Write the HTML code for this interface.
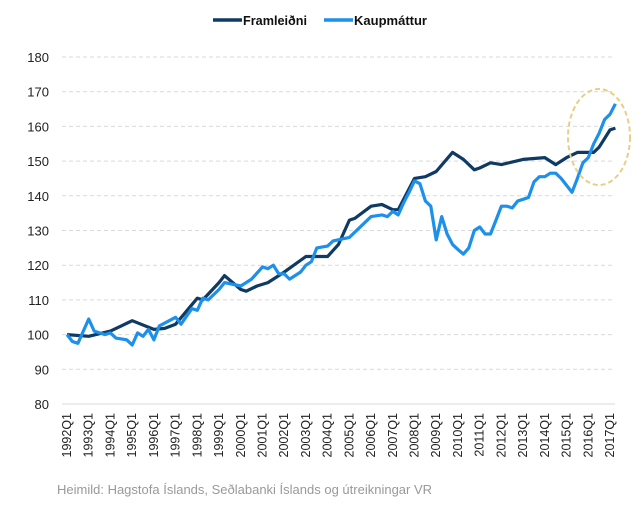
<!DOCTYPE html>
<html><head><meta charset="utf-8"><style>
html,body{margin:0;padding:0;background:#fff;}
svg{display:block;font-family:"Liberation Sans",Calibri,sans-serif;}
</style></head><body>
<svg id="c" width="638" height="517" viewBox="0 0 638 517" xmlns="http://www.w3.org/2000/svg">
<g id="grid"></g>
<g id="ylab" font-size="13" fill="#222" text-anchor="end"></g>
<g id="xlab" font-size="12.5" fill="#222"></g>
<polyline id="dark" fill="none" stroke="#0e3a64" stroke-width="3.2" stroke-linejoin="round"/>
<polyline id="light" fill="none" stroke="#1c90ea" stroke-width="3.2" stroke-linejoin="round"/>
<ellipse cx="599" cy="137" rx="31" ry="48" fill="none" stroke="#e8cf85" stroke-width="2" stroke-dasharray="5,3"/>
<line x1="213" y1="20" x2="242" y2="20" stroke="#0e3a64" stroke-width="3.5"/>
<text x="243" y="25" font-size="13" font-weight="bold" fill="#111" textLength="64" lengthAdjust="spacingAndGlyphs">Framleiðni</text>
<line x1="324" y1="20" x2="353" y2="20" stroke="#1c90ea" stroke-width="3.5"/>
<text x="354" y="25" font-size="13" font-weight="bold" fill="#111" textLength="73" lengthAdjust="spacingAndGlyphs">Kaupmáttur</text>
<text x="57" y="494" font-size="13" fill="#999">Heimild: Hagstofa Íslands, Seðlabanki Íslands og útreikningar VR</text>
</svg>
<script>
var NS="http://www.w3.org/2000/svg";
function Y(v){return 57+(180-v)*3.47;}
function X(i){return 67+5.43*i;}
var g=document.getElementById('grid'),yl=document.getElementById('ylab'),xl=document.getElementById('xlab');
for(var v=80;v<=180;v+=10){
 var l=document.createElementNS(NS,'line');
 l.setAttribute('x1',62);l.setAttribute('x2',615);l.setAttribute('y1',Y(v));l.setAttribute('y2',Y(v));
 l.setAttribute('stroke','#d9d9d9');
 if(v!=80)l.setAttribute('stroke-dasharray','4,3');
 g.appendChild(l);
 var t=document.createElementNS(NS,'text');t.setAttribute('x',49);t.setAttribute('y',Y(v)+5);t.textContent=v;yl.appendChild(t);
}
for(var y=1992;y<=2017;y++){
 var t=document.createElementNS(NS,'text');var x=X((y-1992)*4)+4;
 t.setAttribute('transform','translate('+x+',413) rotate(-90)');t.setAttribute('text-anchor','end');
 t.textContent=y+'Q1';xl.appendChild(t);
}
function q(y,k){return (y-1992)*4+(k-1);}
var D=[[1992,1,100],[1993,1,99.5],[1994,1,101],[1994,3,102.5],[1995,1,104],[1996,1,101.5],[1996,3,101.8],[1997,1,103],[1998,1,110.5],[1998,2,110],[1999,1,115],[1999,2,117],[2000,1,113],[2000,2,112.5],[2000,4,114],[2001,2,115],[2002,1,118],[2003,1,122.5],[2003,3,122.5],[2004,1,122.5],[2004,3,126],[2005,1,133],[2005,2,133.5],[2006,1,137],[2006,3,137.5],[2007,1,136],[2007,2,136],[2008,1,145],[2008,3,145.5],[2009,1,147],[2009,4,152.5],[2010,2,150.5],[2010,4,147.5],[2011,1,148],[2011,3,149.5],[2012,1,149],[2013,1,150.5],[2014,1,151],[2014,3,149],[2015,1,151],[2015,3,152.5],[2016,2,152.5],[2016,3,154],[2016,4,156.5],[2017,1,159],[2017,2,159.5]];
var L1=[[1992,1,100],[1992,2,98],[1992,3,97.5],[1993,1,104.5],[1993,2,101],[1993,4,100],[1994,1,100.5],[1994,2,99],[1994,4,98.5],[1995,1,97],[1995,2,100.5],[1995,3,99.5],[1995,4,101.5],[1996,1,98.5],[1996,2,102.5],[1997,1,105],[1997,2,103],[1997,4,107.5],[1998,1,107],[1998,2,110.5],[1998,3,110],[1999,1,113],[1999,2,115],[2000,1,114],[2000,3,116],[2001,1,119.5],[2001,2,119],[2001,3,120],[2001,4,117.5],[2002,1,117.5],[2002,2,116],[2002,4,118],[2003,1,120],[2003,2,121],[2003,3,125],[2004,1,125.5],[2004,2,127],[2005,1,128],[2005,4,132.5],[2006,1,134],[2006,3,134.5],[2006,4,134],[2007,1,135.5],[2007,2,134.5]];
var L2=[[62,138],[63,141],[64,144.3],[65,143.5],[66,138.5],[67,137],[68,127.3],[69,134],[70,129],[71,126],[72,124.5],[73,123.2],[74,125],[75,130],[76,131],[77,129],[78,129],[79,133],[80,137],[81,137],[82,136.5],[83,138.5],[84,139],[85,139.5],[86,144],[87,145.5],[88,145.5],[89,146.5],[90,146.5],[91,145],[92,143],[93,141],[94,145],[95,149.5],[96,151],[97,155],[98,158],[99,162],[100,163.5],[101,166.5]];
var pts=D.map(function(p){return X(q(p[0],p[1])).toFixed(1)+','+Y(p[2]).toFixed(1);});
document.getElementById('dark').setAttribute('points',pts.join(' '));
var lp=L1.map(function(p){return X(q(p[0],p[1])).toFixed(1)+','+Y(p[2]).toFixed(1);}).concat(L2.map(function(p){return X(p[0]).toFixed(1)+','+Y(p[1]).toFixed(1);}));
document.getElementById('light').setAttribute('points',lp.join(' '));
</script>
</body></html>
